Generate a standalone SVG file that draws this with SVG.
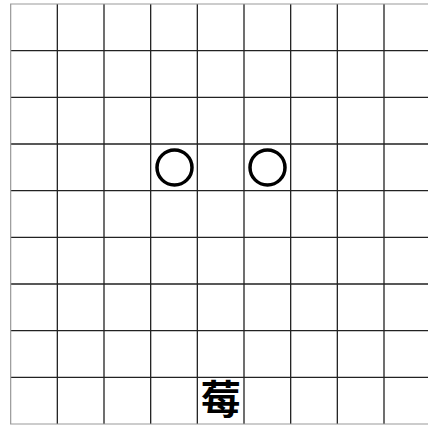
<svg xmlns="http://www.w3.org/2000/svg" width="428" height="425" viewBox="0 0 428 425">
<style>
.g{stroke:#222;stroke-width:1.3;fill:none}
.b{stroke:#999;stroke-width:1.2;fill:none}
.c{stroke:#000;stroke-width:3.5;fill:none}
.t{font-family:"Noto Sans CJK SC","Noto Sans CJK JP",sans-serif;font-size:40px;font-weight:bold;fill:#000}
</style>
<rect width="428" height="425" fill="#fff"/>
<g id="grid">
<path class="g" d="M57.33 4V424M104 4V424M150.67 4V424M197.33 4V424M244 4V424M290.67 4V424M337.33 4V424M384 4V424"/>
<path class="g" d="M10.67 50.67H428M10.67 97.33H428M10.67 144H428M10.67 190.67H428M10.67 237.33H428M10.67 284H428M10.67 330.67H428M10.67 377.33H428"/>
<path class="b" d="M428 4H10.67V424H428"/>
</g>
<g id="stone1"><circle class="c" cx="174.5" cy="167.5" r="17.5"/></g>
<g id="stone2"><circle class="c" cx="267.5" cy="167.5" r="17.5"/></g>
<g id="label"><text class="t" x="220.7" y="414" text-anchor="middle">莓</text></g>
</svg>
